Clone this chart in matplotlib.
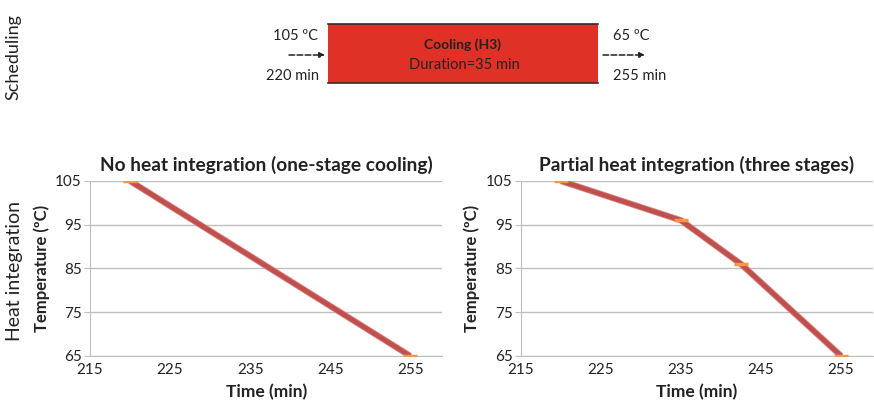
import matplotlib.pyplot as plt
from matplotlib.patches import Rectangle

plt.rcParams['font.family'] = ['Lato', 'DejaVu Sans']

# 数据
time_one = [220, 255]
temp_one = [105, 65]
time_three = [220, 235, 242.5, 255]
temp_three = [105, 96, 86, 65]
x_ticks = [215, 225, 235, 245, 255]
y_ticks = [65, 75, 85, 95, 105]

line_color = '#C0504D'
marker_color = '#F79646'
grid_color = '#BFBFBF'

fig = plt.figure(figsize=(8.74, 4.08), dpi=100)

# -------------------------- 顶部：调度示意 --------------------------
top = fig.add_axes([0, 0, 1, 1])
top.set_xlim(0, 874)
top.set_ylim(408, 0)
top.axis('off')
top.add_patch(Rectangle((328, 24), 270, 59, facecolor='#E03127', edgecolor='none'))
top.plot([328, 598], [24, 24], color='#3a2a2a', lw=1.2)
top.plot([328, 598], [83, 83], color='#3a2a2a', lw=1.2)
top.text(463, 45, 'Cooling (H3)', ha='center', va='center', fontsize=10, fontweight='bold', color='#222222')
top.text(464, 65, 'Duration=35 min', ha='center', va='center', fontsize=10.5, color='#222222')
top.text(318, 36, '105 ºC', ha='right', va='center', fontsize=10.5, color='#222222')
top.text(319, 76, '220 min', ha='right', va='center', fontsize=10.5, color='#222222')
top.text(613, 36, '65 ºC', ha='left', va='center', fontsize=10.5, color='#222222')
top.text(613, 76, '255 min', ha='left', va='center', fontsize=10.5, color='#222222')
for x0, x1 in [(289, 325), (603, 645)]:
    top.annotate('', xy=(x1, 55), xytext=(x0, 55),
                 arrowprops=dict(arrowstyle='-|>', ls='--', color='#222222', lw=1.1,
                                 mutation_scale=8, shrinkA=0, shrinkB=0))
top.text(13, 57, 'Scheduling', rotation=90, ha='center', va='center', fontsize=13, color='#222222')
top.text(15, 271, 'Heat integration', rotation=90, ha='center', va='center', fontsize=14, color='#222222')


def draw_panel(rect, xs, ys, title):
    ax = fig.add_axes(rect)
    ax.plot(xs, ys, color='#D98A87', lw=4.6, solid_capstyle='butt', zorder=3)
    ax.plot(xs, ys, color=line_color, lw=3.4, solid_capstyle='butt', zorder=3)
    ax.plot(xs, ys, ls='none', marker='_', ms=10, mew=2.5, color=marker_color, zorder=4)
    ax.set_xlim(215, 259)
    ax.set_ylim(65, 105)
    ax.set_xticks(x_ticks)
    ax.set_yticks(y_ticks)
    ax.grid(axis='y', color=grid_color, lw=1)
    ax.set_axisbelow(True)
    for s in ['top', 'right']:
        ax.spines[s].set_visible(False)
    ax.spines['left'].set_color(grid_color)
    ax.spines['bottom'].set_color(grid_color)
    ax.tick_params(axis='y', length=4, color=grid_color, labelsize=11, labelcolor='#222222', pad=2)
    ax.tick_params(axis='x', length=0, labelsize=11, labelcolor='#222222', pad=5)
    ax.set_xlabel('Time (min)', fontsize=12.5, fontweight='bold', labelpad=5, color='#222222')
    ax.set_ylabel('Temperature (ºC)', fontsize=12, fontweight='bold', labelpad=4, color='#222222')
    ax.set_title(title, fontsize=13.8, fontweight='bold', pad=7, color='#222222')
    return ax


draw_panel([0.103, 0.1275, 0.403, 0.4289], time_one, temp_one, 'No heat integration (one-stage cooling)')
draw_panel([0.596, 0.1275, 0.403, 0.4289], time_three, temp_three, 'Partial heat integration (three stages)')

plt.savefig('out.png', dpi=100)
